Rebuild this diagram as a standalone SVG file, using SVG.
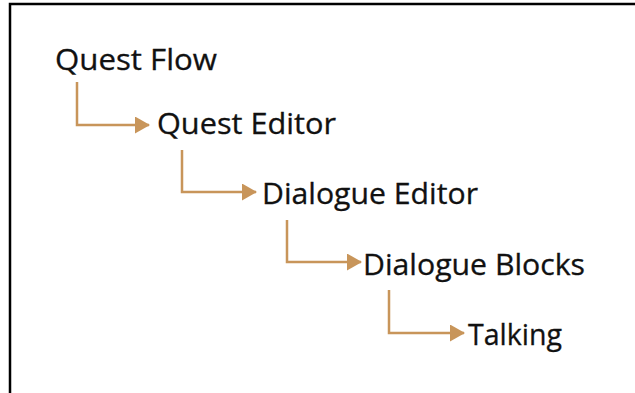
<svg xmlns="http://www.w3.org/2000/svg" width="635" height="393" viewBox="0 0 635 393">
<defs>
<marker id="ah" markerWidth="15" markerHeight="17" refX="14" refY="8.5" orient="auto" markerUnits="userSpaceOnUse">
<path d="M0,0 L15,8.5 L0,17 Z" fill="#C8955A"/>
</marker>
</defs>
<style>
.lbl{font-family:"Open Sans","Liberation Sans",sans-serif;font-size:29px;fill:#111111;stroke:#111111;stroke-width:0.3;}
.con{fill:none;stroke:#C8955A;stroke-width:2.5;marker-end:url(#ah);}
</style>
<rect x="0" y="0" width="635" height="393" fill="#ffffff"/>
<path d="M10,393 V4 H635" fill="none" stroke="#000" stroke-width="2.5"/>
<g id="connectors">
<path class="con" d="M77,82 V125 H149"/>
<path class="con" d="M182,150 V192 H256"/>
<path class="con" d="M287,220 V262 H361"/>
<path class="con" d="M389,290 V333 H464"/>
</g>
<g id="quest-flow"><text class="lbl" x="55" y="70" textLength="162" lengthAdjust="spacingAndGlyphs">Quest Flow</text></g>
<g id="quest-editor"><text class="lbl" x="157" y="134" textLength="179" lengthAdjust="spacingAndGlyphs">Quest Editor</text></g>
<g id="dialogue-editor"><text class="lbl" x="262" y="204" textLength="216" lengthAdjust="spacingAndGlyphs">Dialogue Editor</text></g>
<g id="dialogue-blocks"><text class="lbl" x="363" y="275" textLength="222" lengthAdjust="spacingAndGlyphs">Dialogue Blocks</text></g>
<g id="talking"><text class="lbl" x="468" y="345" textLength="94" lengthAdjust="spacingAndGlyphs">Talking</text></g>
</svg>
